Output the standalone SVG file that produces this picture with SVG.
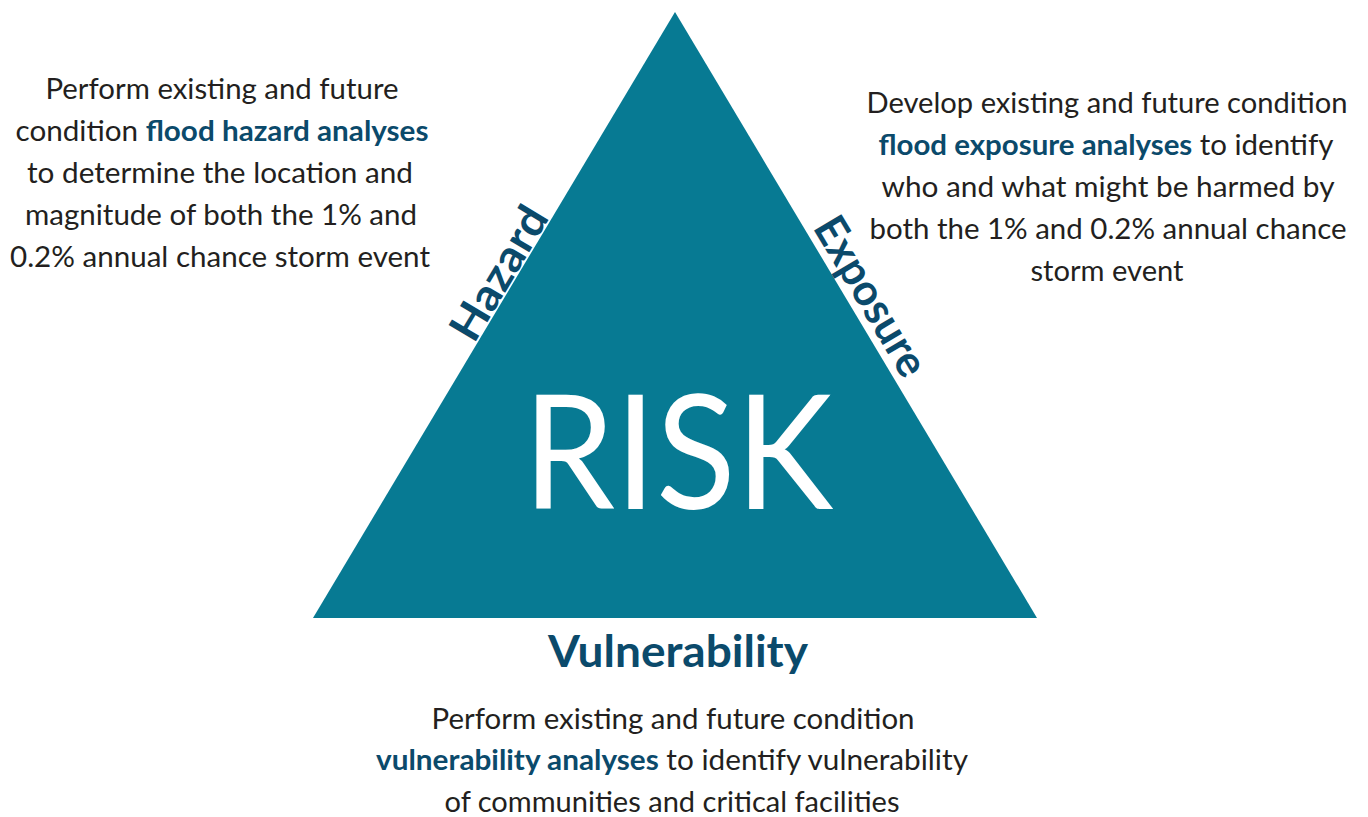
<svg xmlns="http://www.w3.org/2000/svg" width="1368" height="817" viewBox="0 0 1368 817">
<style>
.body{font-family:Lato,"Open Sans","Liberation Sans",sans-serif;font-size:28px;fill:#231f20;text-anchor:middle}
.hl{font-weight:bold;fill:#0b4a6b}
.side{font-family:Lato,"Open Sans","Liberation Sans",sans-serif;font-weight:bold;font-size:44px;fill:#0b4a6b;text-anchor:middle}
</style>
<rect width="1368" height="817" fill="#ffffff"/>
<g id="triangle">
<polygon points="675,12 1037,618 313,618" fill="#077a93"/>
<text x="678" y="509" font-family="Lato,'Open Sans','Liberation Sans',sans-serif" font-size="160" fill="#ffffff" text-anchor="middle" textLength="310" lengthAdjust="spacingAndGlyphs">RISK</text>
</g>
<g id="hazard">
<text class="side" transform="translate(512,281) rotate(-59.14)" textLength="148" lengthAdjust="spacingAndGlyphs">Hazard</text>
<text class="body" textLength="353" lengthAdjust="spacingAndGlyphs" x="222" y="99">Perform existing and future</text>
<text class="body" textLength="413" lengthAdjust="spacingAndGlyphs" x="222" y="141">condition <tspan class="hl">flood hazard analyses</tspan></text>
<text class="body" textLength="386" lengthAdjust="spacingAndGlyphs" x="220" y="183">to determine the location and</text>
<text class="body" textLength="392" lengthAdjust="spacingAndGlyphs" x="221" y="225">magnitude of both the 1% and</text>
<text class="body" textLength="420" lengthAdjust="spacingAndGlyphs" x="220" y="267">0.2% annual chance storm event</text>
</g>
<g id="exposure">
<text class="side" transform="translate(858,304) rotate(59.14)" textLength="178" lengthAdjust="spacingAndGlyphs">Exposure</text>
<text class="body" textLength="481" lengthAdjust="spacingAndGlyphs" x="1107" y="113">Develop existing and future condition</text>
<text class="body" textLength="455" lengthAdjust="spacingAndGlyphs" x="1106" y="155"><tspan class="hl">flood exposure analyses</tspan> to identify</text>
<text class="body" textLength="453" lengthAdjust="spacingAndGlyphs" x="1108" y="197">who and what might be harmed by</text>
<text class="body" textLength="477" lengthAdjust="spacingAndGlyphs" x="1108" y="239">both the 1% and 0.2% annual chance</text>
<text class="body" textLength="153" lengthAdjust="spacingAndGlyphs" x="1107" y="281">storm event</text>
</g>
<g id="vulnerability">
<text class="side" x="678" y="667" textLength="260" lengthAdjust="spacingAndGlyphs">Vulnerability</text>
<text class="body" textLength="483" lengthAdjust="spacingAndGlyphs" x="673" y="729">Perform existing and future condition</text>
<text class="body" textLength="592" lengthAdjust="spacingAndGlyphs" x="672" y="770"><tspan class="hl">vulnerability analyses</tspan> to identify vulnerability</text>
<text class="body" textLength="455" lengthAdjust="spacingAndGlyphs" x="672" y="812">of communities and critical facilities</text>
</g>
</svg>
